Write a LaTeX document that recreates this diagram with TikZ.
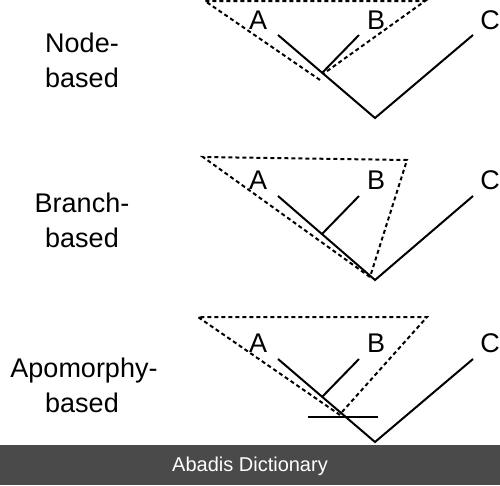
\documentclass[tikz,border=0pt]{standalone}
\usepackage{fontspec}
\setmainfont{Liberation Sans}
\begin{document}
\begin{tikzpicture}[x=1pt,y=-1pt,
  branch/.style={line width=2pt},
  clade/.style={line width=2pt,dash pattern=on 4pt off 3pt},
  tip/.style={font=\fontsize{27}{30}\selectfont,anchor=base},
  side/.style={font=\fontsize{27}{30}\selectfont,anchor=base}]
\useasboundingbox (0,0) rectangle (500,485);
% ---------- panel 1: node-based
\node[side] (n1) at (82,52) {Node-};
\node[side] (n2) at (82,87) {based};
\coordinate (p1a) at (278,35);
\coordinate (p1b) at (359,35);
\coordinate (p1c) at (473,35);
\coordinate (p1j) at (322,73);
\coordinate (p1r) at (375,118);
\node[tip] (t1a) at (258,29) {A};
\node[tip] (t1b) at (376,29) {B};
\node[tip] (t1c) at (490,29) {C};
\draw[branch] (p1a) -- (p1r) -- (p1c);
\draw[branch] (p1b) -- (p1j);
\coordinate (d1l) at (205,1);
\coordinate (d1r) at (425,1);
\coordinate (d1b) at (320,80);
\coordinate (d1c) at (323,74);
\draw[clade] (d1b) -- (d1l) -- (d1r) -- (d1c);
% ---------- panel 2: branch-based
\node[side] (m1) at (82,212) {Branch-};
\node[side] (m2) at (82,247) {based};
\coordinate (p2a) at (278,196);
\coordinate (p2b) at (359,196);
\coordinate (p2c) at (473,196);
\coordinate (p2j) at (322,234);
\coordinate (p2r) at (375,280);
\node[tip] (t2a) at (258,189) {A};
\node[tip] (t2b) at (376,189) {B};
\node[tip] (t2c) at (490,189) {C};
\draw[branch] (p2a) -- (p2r) -- (p2c);
\draw[branch] (p2b) -- (p2j);
\coordinate (d2l) at (203,157);
\coordinate (d2r) at (407,160);
\coordinate (d2b) at (370,277);
\draw[clade] (d2b) -- (d2l) -- (d2r) -- (d2b);
% ---------- panel 3: apomorphy-based
\node[side] (q1) at (84,377) {Apomorphy-};
\node[side] (q2) at (82,412) {based};
\coordinate (p3a) at (278,359);
\coordinate (p3b) at (359,359);
\coordinate (p3c) at (473,359);
\coordinate (p3j) at (322,397);
\coordinate (p3r) at (375,442);
\node[tip] (t3a) at (258,352) {A};
\node[tip] (t3b) at (376,352) {B};
\node[tip] (t3c) at (490,352) {C};
\draw[branch] (p3a) -- (p3r) -- (p3c);
\draw[branch] (p3b) -- (p3j);
\coordinate (h3l) at (308,417);
\coordinate (h3r) at (378,417);
\draw[branch] (h3l) -- (h3r);
\coordinate (d3l) at (198,317);
\coordinate (d3r) at (427,317);
\coordinate (d3b) at (340,415);
\coordinate (d3c) at (342,412);
\draw[clade] (d3b) -- (d3l) -- (d3r) -- (d3c);
% ---------- footer bar
\fill[fill={rgb,255:red,74;green,74;blue,74}] (0,445) rectangle (500,485);
\node[anchor=base,text=white,font=\fontsize{20}{24}\selectfont] (foot) at (250,471) {Abadis Dictionary};
\end{tikzpicture}
\end{document}
